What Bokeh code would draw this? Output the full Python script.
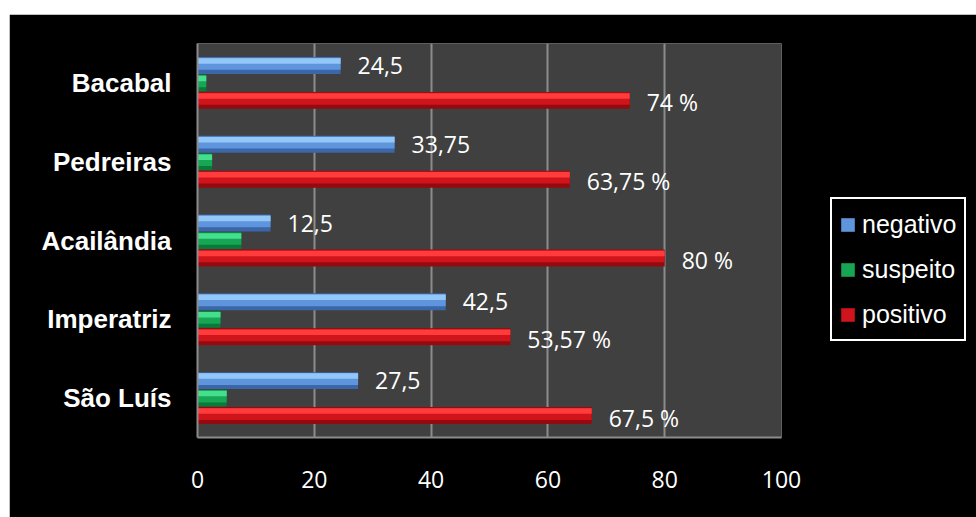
from bokeh.plotting import figure
from bokeh.models import ColumnDataSource, FactorRange, Range1d, FixedTicker, Legend, LegendItem
from bokeh.transform import dodge
from bokeh.core.properties import value
from bokeh.embed import file_html
from bokeh.resources import INLINE

# ---- data ----
categories = ["Bacabal", "Pedreiras", "Acailândia", "Imperatriz", "São Luís"]
negativo = [24.5, 33.75, 12.5, 42.5, 27.5]
suspeito = [1.5, 2.5, 7.5, 3.93, 5.0]
positivo = [74, 63.75, 80, 53.57, 67.5]
x_ticks = [0, 20, 40, 60, 80, 100]


def fmt(v):
    return f"{v:g}".replace(".", ",")


src = ColumnDataSource(dict(
    cat=categories,
    neg=negativo,
    sus=suspeito,
    pos=positivo,
    neg_lab=[fmt(v) for v in negativo],
    pos_lab=[fmt(v) + " %" for v in positivo],
))

p = figure(
    frame_width=584, frame_height=394,
    y_range=FactorRange(factors=categories[::-1], range_padding=0),
    x_range=Range1d(0, 100),
    output_backend="svg", toolbar_location=None,
    min_border_left=188, min_border_right=195, min_border_top=29, min_border_bottom=80,
)
p.margin = (14, 0, 0, 9)
p.border_fill_color = "black"
p.background_fill_color = "#404040"
p.outline_line_color = None

# grid / axes
p.ygrid.grid_line_color = None
p.xgrid.grid_line_color = "#8c8c8c"
p.xgrid.grid_line_width = 2
p.xaxis.ticker = FixedTicker(ticks=x_ticks)
p.xaxis.axis_line_color = "#8c8c8c"
p.xaxis.axis_line_width = 2
p.xaxis.major_tick_line_color = None
p.xaxis.minor_tick_line_color = None
p.xaxis.major_label_text_color = "white"
p.xaxis.major_label_text_font = "Open Sans"
p.xaxis.major_label_text_font_size = "23px"
p.xaxis.major_label_standoff = 27

p.yaxis.axis_line_color = "#8c8c8c"
p.yaxis.axis_line_width = 2
p.yaxis.major_tick_line_color = None
p.yaxis.minor_tick_line_color = None
p.yaxis.major_label_text_color = "white"
p.yaxis.major_label_text_font = "Liberation Sans"
p.yaxis.major_label_text_font_style = "bold"
p.yaxis.major_label_text_font_size = "26px"
p.yaxis.major_label_standoff = 20

BAR_H = 0.215
series = [
    ("neg", 0.222, ("#3b66a8", "#5f95dc", "#93c7f7")),
    ("sus", 0.0, ("#0a7a38", "#17a653", "#45de8e")),
    ("pos", -0.222, ("#950a0e", "#d0141b", "#ff3b3b")),
]
main_renderers = {}
for col, off, (edge, main, light) in series:
    p.hbar(y=dodge("cat", off, range=p.y_range), right=col, left=0, height=BAR_H,
           source=src, fill_color=edge, line_color=None)
    r = p.hbar(y=dodge("cat", off + 0.021, range=p.y_range), right=col, left=0, height=0.152,
               source=src, fill_color=main, line_color=None)
    p.hbar(y=dodge("cat", off + 0.057, range=p.y_range), right=col, left=0, height=0.07,
           source=src, fill_color=light, line_color=None)
    main_renderers[col] = r

# data labels
p.text(x="neg", y=dodge("cat", 0.222, range=p.y_range), text="neg_lab", source=src,
       x_offset=17, text_baseline="middle", text_align="left", text_color="white",
       text_font=value("Open Sans"), text_font_size="23px")
p.text(x="pos", y=dodge("cat", -0.222, range=p.y_range), text="pos_lab", source=src,
       x_offset=17, y_offset=2, text_baseline="middle", text_align="left", text_color="white",
       text_font=value("Open Sans"), text_font_size="23px")

legend = Legend(items=[
    LegendItem(label="negativo", renderers=[main_renderers["neg"]]),
    LegendItem(label="suspeito", renderers=[main_renderers["sus"]]),
    LegendItem(label="positivo", renderers=[main_renderers["pos"]]),
], location=(49, 96))
legend.background_fill_color = "black"
legend.background_fill_alpha = 1
legend.border_line_color = "white"
legend.border_line_alpha = 1
legend.border_line_width = 2
legend.label_text_color = "white"
legend.label_text_font = "Liberation Sans"
legend.label_text_font_size = "25px"
legend.glyph_width = 17
legend.glyph_height = 17
legend.label_height = 36
legend.label_standoff = 6
legend.spacing = 9
legend.padding = 7
legend.margin = 0
p.add_layout(legend, "right")

open("out.html", "w").write(file_html(p, INLINE))
